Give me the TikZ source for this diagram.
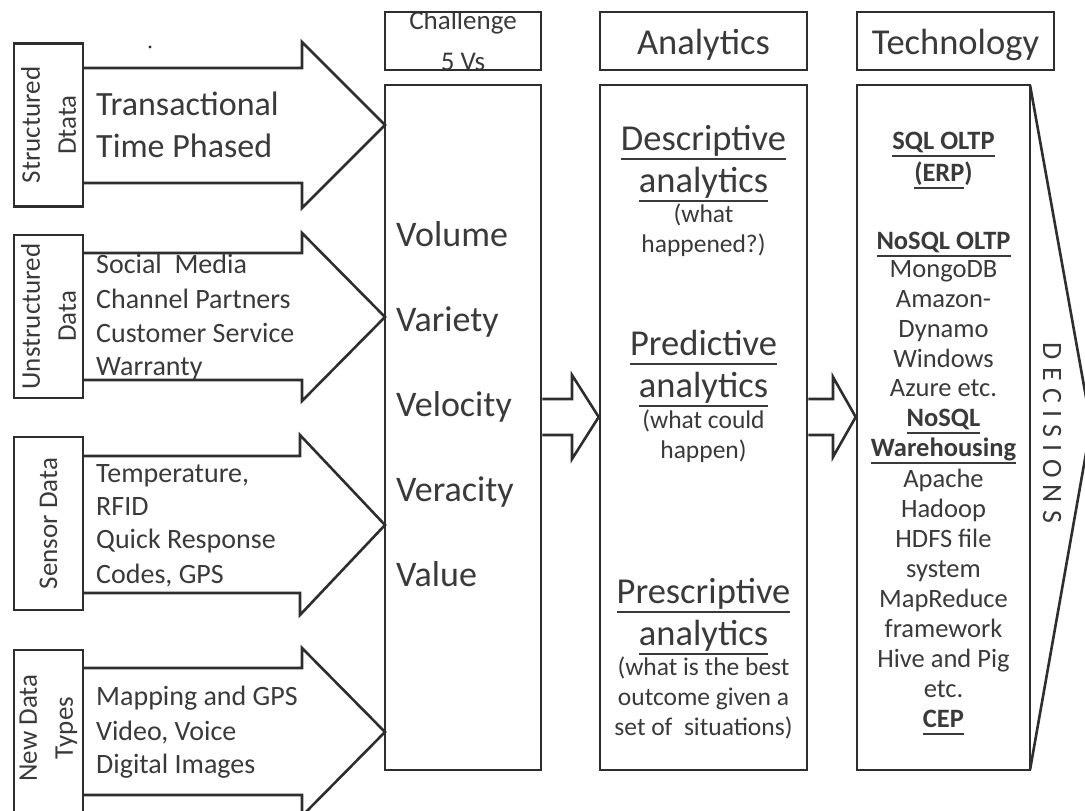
\documentclass[tikz,border=0pt]{standalone}
\usepackage{fontspec}
\setmainfont{Carlito}
\newfontfamily\decfont[LetterSpace=26]{Carlito}
\definecolor{ln}{HTML}{2E2E2E}
\definecolor{tx}{HTML}{3A3A3A}
\newcommand\fs[1]{\fontsize{#1}{#1}\selectfont}
\newcommand\ulx[1]{\vtop{\hbox{#1\vphantom{gpy}}\kern1.5pt\hrule height 1.8pt}}
\begin{document}
\begin{tikzpicture}[x=1pt,y=-1pt,line join=miter,
  box/.style={draw=ln,line width=2.6pt,inner sep=0pt},
  blk/.style={draw=ln,line width=2.6pt,fill=white},
  txl/.style={text=tx,inner sep=0pt,anchor=base west},
  txc/.style={text=tx,inner sep=0pt,anchor=base},
  rot/.style={text=tx,inner sep=0pt,rotate=90,align=center,font=\fs{27}}]
\useasboundingbox (0,0) rectangle (1085,811);
\fill[white] (0,0) rectangle (1085,811);

% ---- left block arrows ----
\draw[blk] (83,68) -- (302,68) -- (302,42) -- (385,125) -- (302,208) -- (302,183) -- (83,183);
\draw[blk] (83,253) -- (302,253) -- (302,233) -- (385,317) -- (302,401) -- (302,380) -- (83,380);
\draw[blk] (83,456) -- (300,456) -- (300,435) -- (385,525) -- (300,615) -- (300,593) -- (83,593);
\draw[blk] (83,668) -- (302,668) -- (302,648) -- (385,732) -- (302,816) -- (302,795) -- (83,795);

% ---- left label boxes ----
\node[box,minimum width=69pt,minimum height=163pt] (sd) at (48.5,125) {};
\node[rot] (sdl) at (sd.center) {Structured\\[9pt]Dtata};
\node[box,minimum width=69pt,minimum height=163pt] (ud) at (48.5,316.5) {};
\node[rot] (udl) at (ud.center) {Unstructured\\[9pt]Data};
\node[box,minimum width=69pt,minimum height=173pt] (sn) at (48.5,523.5) {};
\node[rot] (snl) at (sn.center) {Sensor Data};
\node[box,minimum width=69pt,minimum height=170pt] (nd) at (48.5,735) {};
\node[rot] (ndl) at (48.5,728) {New Data\\[9pt]Types};
\fill[ln] (150,47) circle (1.6pt);

% ---- left texts ----
\node[txl,font=\fs{34}] (t1) at (96,115) {Transactional};
\node[txl,font=\fs{34}] (t2) at (96,157) {Time Phased};
\foreach \t/\y [count=\i] in {{Social\ \ Media}/273,{Channel Partners}/308,{Customer Service}/342,{Warranty}/375}
  \node[txl,font=\fs{28}] (u\i) at (96,\y) {\t};
\foreach \t/\y [count=\i] in {{Temperature,}/482,{RFID}/515,{Quick Response}/548,{Codes, GPS}/583}
  \node[txl,font=\fs{28}] (s\i) at (96,\y) {\t};
\foreach \t/\y [count=\i] in {{Mapping and GPS}/705,{Video, Voice}/740,{Digital Images}/773}
  \node[txl,font=\fs{28}] (n\i) at (96,\y) {\t};

% ---- Challenge column ----
\begin{scope}
\clip (385,12) rectangle (541,70);
\node[txc,font=\fs{27}] (ch1) at (463,30) {Challenge};
\node[txc,font=\fs{27}] (ch2) at (463,70) {5 Vs};
\end{scope}
\node[box,minimum width=156pt,minimum height=58pt] (chh) at (463,41) {};
\node[box,minimum width=156pt,minimum height=685pt] (chb) at (463,427.5) {};
\foreach \t/\y [count=\i] in {Volume/246,Variety/331,Velocity/416,Veracity/501,Value/586}
  \node[txl,font=\fs{36}] (v\i) at (396,\y) {\t};

% ---- Analytics column ----
\node[box,minimum width=207pt,minimum height=58pt] (anh) at (703.5,41) {};
\node[txc,font=\fs{36.5}] (anl) at (703.5,54) {Analytics};
\node[box,minimum width=207pt,minimum height=685pt] (anb) at (703.5,427.5) {};
\node[txc,font=\fs{36.5}] (a1) at (703.5,150) {\ulx{Descriptive}};
\node[txc,font=\fs{36.5}] (a2) at (703.5,192) {\ulx{analytics}};
\node[txc,font=\fs{25.5}] (a3) at (703.5,222) {(what};
\node[txc,font=\fs{25.5}] (a4) at (703.5,252) {happened?)};
\node[txc,font=\fs{36.5}] (b1) at (703.5,355) {\ulx{Predictive}};
\node[txc,font=\fs{36.5}] (b2) at (703.5,397) {\ulx{analytics}};
\node[txc,font=\fs{25.5}] (b3) at (703.5,428) {(what could};
\node[txc,font=\fs{25.5}] (b4) at (703.5,458) {happen)};
\node[txc,font=\fs{36.5}] (c1) at (703.5,603) {\ulx{Prescriptive}};
\node[txc,font=\fs{36.5}] (c2) at (703.5,645) {\ulx{analytics}};
\node[txc,font=\fs{25.5}] (c3) at (703.5,675) {(what is the best};
\node[txc,font=\fs{25.5}] (c4) at (703.5,705) {outcome given a};
\node[txc,font=\fs{25.5}] (c5) at (703.5,735) {set of\ \ situations)};

% ---- Technology column ----
\node[box,minimum width=197pt,minimum height=58pt] (teh) at (955.5,41) {};
\node[txc,font=\fs{36.5}] (tel) at (955.5,54) {Technology};
\draw[blk,fill=none] (1030,85) -- (1091,425) -- (1030,770);
\node[box,minimum width=173pt,minimum height=685pt] (teb) at (943.5,427.5) {};
\foreach \t/\y [count=\i] in {
  {\bfseries\ulx{SQL OLTP}}/149,
  {\bfseries\ulx{(ERP}\hbox{)}}/181,
  {\bfseries\ulx{NoSQL OLTP}}/249,
  {MongoDB}/277,{Amazon-}/307,{Dynamo}/337,{Windows}/367,{Azure etc.}/396,
  {\bfseries\ulx{NoSQL}}/426,
  {\bfseries\ulx{Warehousing}}/456,
  {Apache}/487,{Hadoop}/517,{HDFS file}/547,{system}/577,{MapReduce}/607,
  {framework}/637,{Hive and Pig}/667,{etc.}/697,
  {\bfseries\ulx{CEP}}/727}
  \node[txc,font=\fs{26.5}] (k\i) at (943.5,\y) {\t};
\node[text=tx,inner sep=0pt,rotate=-90,font=\decfont\fs{28}] (dec) at (1052,433) {DECISIONS};

% ---- middle block arrows ----
\draw[blk] (chb.east |- 0,399) -- (572,399) -- (572,375) -- (anb.west |- 0,417) -- (572,459) -- (572,435) -- (chb.east |- 0,435);
\draw[blk] (anb.east |- 0,399) -- (833,399) -- (833,377) -- (teb.west |- 0,417) -- (833,457) -- (833,435) -- (anb.east |- 0,435);
\end{tikzpicture}
\end{document}
